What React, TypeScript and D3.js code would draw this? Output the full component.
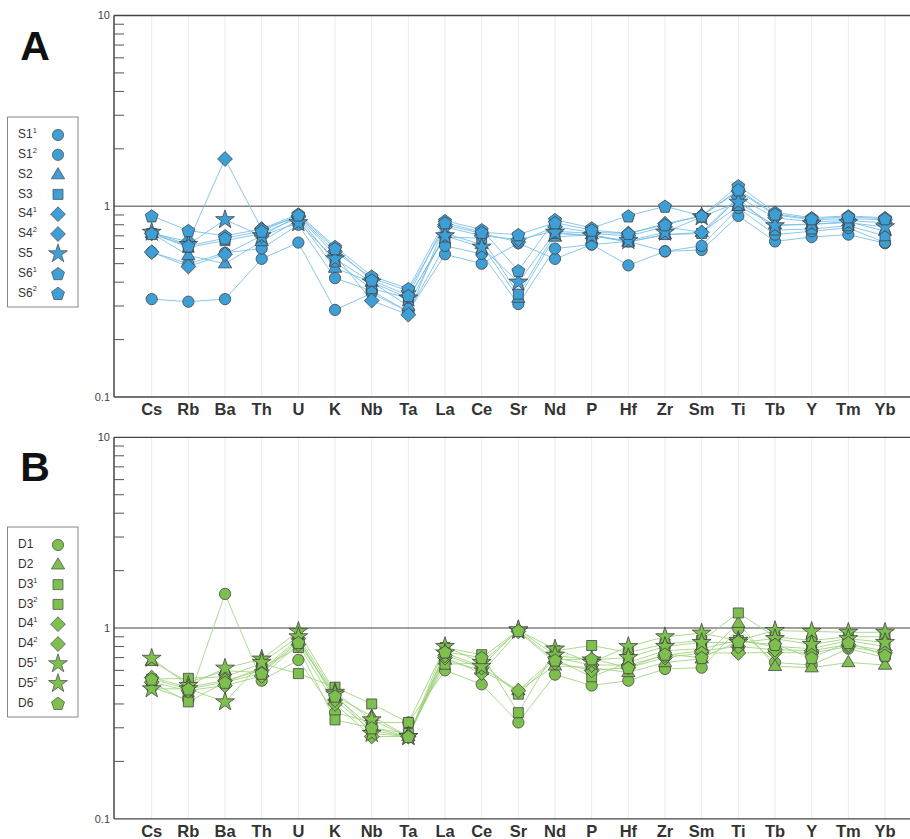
import React from "react";
import * as d3 from "d3";

const elements = ["Cs","Rb","Ba","Th","U","K","Nb","Ta","La","Ce","Sr","Nd","P","Hf","Zr","Sm","Ti","Tb","Y","Tm","Yb"];
const yTickLabels = ["10", "1", "0.1"];

// Panel A series
const namesA = ["S1¹","S1²","S2","S3","S4¹","S4²","S5","S6¹","S6²"];
const shapesA = ["circle","circle","triangle","square","diamond","diamond","star","pentagon","pentagon"];
const S1a = [0.326,0.316,0.326,0.53,0.645,0.286,0.35,0.28,0.56,0.50,0.64,0.53,0.63,0.49,0.58,0.59,0.89,0.654,0.69,0.71,0.64];
const S1b = [0.575,0.499,0.57,0.60,0.80,0.42,0.36,0.28,0.62,0.563,0.307,0.60,0.63,0.654,0.58,0.62,0.98,0.71,0.74,0.77,0.645];
const S2 = [0.72,0.552,0.50,0.654,0.85,0.474,0.40,0.30,0.72,0.63,0.33,0.69,0.71,0.65,0.71,0.73,1.0,0.80,0.80,0.83,0.74];
const S3 = [0.72,0.61,0.66,0.72,0.87,0.51,0.37,0.33,0.69,0.68,0.346,0.72,0.70,0.65,0.71,0.72,1.1,0.75,0.76,0.79,0.70];
const S4a = [0.72,0.654,1.77,0.76,0.88,0.556,0.32,0.27,0.80,0.72,0.65,0.78,0.73,0.72,0.81,0.89,1.2,0.90,0.85,0.86,0.85];
const S4b = [0.575,0.483,0.56,0.70,0.89,0.58,0.42,0.36,0.78,0.70,0.67,0.74,0.72,0.70,0.78,0.73,1.12,0.87,0.83,0.84,0.82];
const S5 = [0.73,0.63,0.85,0.70,0.82,0.53,0.40,0.33,0.70,0.61,0.40,0.73,0.70,0.66,0.73,0.88,1.05,0.79,0.81,0.82,0.78];
const S6a = [0.89,0.746,0.70,0.76,0.91,0.615,0.43,0.37,0.84,0.753,0.46,0.85,0.77,0.89,1.0,0.89,1.28,0.93,0.87,0.89,0.87];
const S6b = [0.72,0.62,0.68,0.74,0.90,0.60,0.41,0.34,0.82,0.73,0.71,0.82,0.75,0.72,0.80,0.89,1.22,0.91,0.86,0.88,0.86];
const valuesA = [S1a,S1b,S2,S3,S4a,S4b,S5,S6a,S6b];

// Panel B series
const namesB = ["D1","D2","D3¹","D3²","D4¹","D4²","D5¹","D5²","D6"];
const shapesB = ["circle","triangle","square","square","diamond","diamond","star","star","pentagon"];
const D1 = [0.49,0.42,1.51,0.53,0.68,0.36,0.32,0.32,0.60,0.507,0.32,0.57,0.50,0.53,0.61,0.62,0.99,0.66,0.64,0.78,0.70];
const D2 = [0.67,0.52,0.597,0.585,0.86,0.44,0.345,0.27,0.68,0.60,0.47,0.634,0.62,0.585,0.66,0.69,1.06,0.63,0.62,0.66,0.64];
const D3a = [0.54,0.545,0.555,0.652,0.577,0.49,0.40,0.32,0.79,0.725,0.36,0.76,0.81,0.745,0.825,0.86,1.20,0.90,0.86,0.90,0.90];
const D3b = [0.52,0.41,0.52,0.62,0.79,0.33,0.30,0.28,0.646,0.655,0.45,0.687,0.555,0.66,0.76,0.78,0.86,0.80,0.78,0.86,0.80];
const D4a = [0.52,0.47,0.50,0.56,0.82,0.40,0.27,0.27,0.70,0.58,0.96,0.66,0.60,0.62,0.70,0.74,0.74,0.745,0.74,0.80,0.74];
const D4b = [0.55,0.49,0.53,0.60,0.88,0.42,0.29,0.27,0.72,0.62,0.47,0.70,0.64,0.64,0.72,0.76,0.80,0.77,0.76,0.82,0.76];
const D5a = [0.694,0.50,0.616,0.687,0.96,0.46,0.33,0.27,0.80,0.66,0.97,0.776,0.66,0.80,0.90,0.94,0.86,0.97,0.96,0.95,0.95];
const D5b = [0.48,0.48,0.41,0.66,0.90,0.45,0.28,0.27,0.74,0.63,0.98,0.72,0.68,0.70,0.80,0.84,0.84,0.88,0.82,0.88,0.84];
const D6 = [0.54,0.48,0.52,0.58,0.84,0.44,0.30,0.27,0.75,0.70,0.97,0.68,0.69,0.62,0.73,0.70,0.85,0.82,0.70,0.84,0.72];
const valuesB = [D1,D2,D3a,D3b,D4a,D4b,D5a,D5b,D6];

function shapePath(shape: string): string {
  const p = d3.path();
  if (shape === "circle") return d3.symbol(d3.symbolCircle, 100)() as string;
  if (shape === "square") return d3.symbol(d3.symbolSquare, 100)() as string;
  if (shape === "triangle") {
    const r = 7;
    p.moveTo(0, -r);
    p.lineTo(r * 0.95, r * 0.6);
    p.lineTo(-r * 0.95, r * 0.6);
    p.closePath();
    return p.toString();
  }
  if (shape === "diamond") {
    const r = 7.4;
    p.moveTo(0, -r); p.lineTo(r, 0); p.lineTo(0, r); p.lineTo(-r, 0); p.closePath();
    return p.toString();
  }
  if (shape === "star") return d3.symbol(d3.symbolStar, 110)() as string;
  if (shape === "pentagon") {
    const r = 6.8;
    for (let i = 0; i < 5; i++) {
      const a = -Math.PI / 2 + (i * 2 * Math.PI) / 5;
      const x = r * Math.cos(a), y = r * Math.sin(a) + 0.6;
      if (i === 0) p.moveTo(x, y); else p.lineTo(x, y);
    }
    p.closePath();
    return p.toString();
  }
  return "";
}

const x = d3.scaleLinear().domain([0, elements.length - 1]).range([151.7, 885]);
const xLeft = 114;
const xRight = 910;

function Label({ name, x, y }: { name: string; x: number; y: number }) {
  const m = name.match(/^(.*?)([¹²]?)$/);
  const base = m ? m[1] : name;
  const sup = m ? m[2] : "";
  return (
    <text x={x} y={y} fontSize={12} fill="#333" fontFamily="Liberation Sans, Arial, sans-serif" dominantBaseline="middle">
      {base}
      {sup && <tspan fontSize={7.5} dy={-4}>{sup === "¹" ? "1" : "2"}</tspan>}
    </text>
  );
}

function Panel({ top, letter, names, shapes, values, fill, line, legendTop }: any) {
  const y = d3.scaleLog().domain([0.1, 10]).range([top + 381.5, top]);
  const lineGen = d3.line<number>().x((_, i) => x(i)).y((v) => y(v));
  const minor: number[] = [];
  [0.1, 1].forEach((dec) => { for (let k = 2; k <= 9; k++) minor.push(dec * k); });
  return (
    <g>
      <text x={35} y={top + 44} fontSize={41} fontWeight="bold" textAnchor="middle" fill="#111" fontFamily="Liberation Sans, Arial, sans-serif">{letter}</text>
      {elements.map((e, i) => (
        <line key={e} x1={x(i)} x2={x(i)} y1={top} y2={y(0.1)} stroke="#ebebeb" strokeWidth={1} />
      ))}
      <line x1={xLeft} x2={xRight} y1={y(1)} y2={y(1)} stroke="#808080" strokeWidth={1.5} />
      <line x1={xLeft} x2={xRight} y1={y(10)} y2={y(10)} stroke="#444" strokeWidth={1.3} />
      <line x1={xLeft} x2={xRight} y1={y(0.1)} y2={y(0.1)} stroke="#444" strokeWidth={1.3} />
      <line x1={xLeft} x2={xLeft} y1={y(10)} y2={y(0.1)} stroke="#444" strokeWidth={1.5} />
      {minor.map((v) => (
        <line key={v} x1={xLeft} x2={xLeft + 10} y1={y(v)} y2={y(v)} stroke="#555" strokeWidth={1} />
      ))}
      {yTickLabels.map((t) => (
        <text key={t} x={xLeft - 4} y={y(+t) + 1} fontSize={11} fill="#444" textAnchor="end" dominantBaseline="middle" fontFamily="Liberation Sans, Arial, sans-serif">{t}</text>
      ))}
      {elements.map((e, i) => (
        <text key={e} x={x(i)} y={y(0.1) + 18} fontSize={16.5} fontWeight="bold" fill="#333" textAnchor="middle" fontFamily="Liberation Sans, Arial, sans-serif">{e}</text>
      ))}
      {values.map((vals: number[], s: number) => (
        <path key={"l" + s} d={lineGen(vals) as string} fill="none" stroke={line} strokeWidth={1} strokeOpacity={0.85} />
      ))}
      {values.map((vals: number[], s: number) => (
        <g key={"m" + s}>
          {vals.map((v, i) => (
            <path key={i} d={shapePath(shapes[s])} transform={`translate(${x(i)},${y(v)})`} fill={fill} stroke="#444" strokeWidth={0.8} />
          ))}
        </g>
      ))}
      <rect x={7.5} y={legendTop} width={70.5} height={190} fill="#fff" stroke="#888" strokeWidth={1} />
      {names.map((n: string, i: number) => (
        <g key={n}>
          <Label name={n} x={18} y={legendTop + 18 + i * 19.8} />
          <path d={shapePath(shapes[i])} transform={`translate(58,${legendTop + 18 + i * 19.8})`} fill={fill} stroke="#555" strokeWidth={0.8} />
        </g>
      ))}
    </g>
  );
}

export default function App() {
  return (
    <svg width={910} height={839} style={{ position: "absolute", left: 0, top: 0, background: "#fff" }}>
      <rect width={910} height={839} fill="#fff" />
      <Panel top={15.5} letter="A" names={namesA} shapes={shapesA} values={valuesA} fill="#3d9fd6" line="#74bde6" legendTop={117} />
      <Panel top={437.3} letter="B" names={namesB} shapes={shapesB} values={valuesB} fill="#7dc04e" line="#9fd27c" legendTop={527} />
    </svg>
  );
}
